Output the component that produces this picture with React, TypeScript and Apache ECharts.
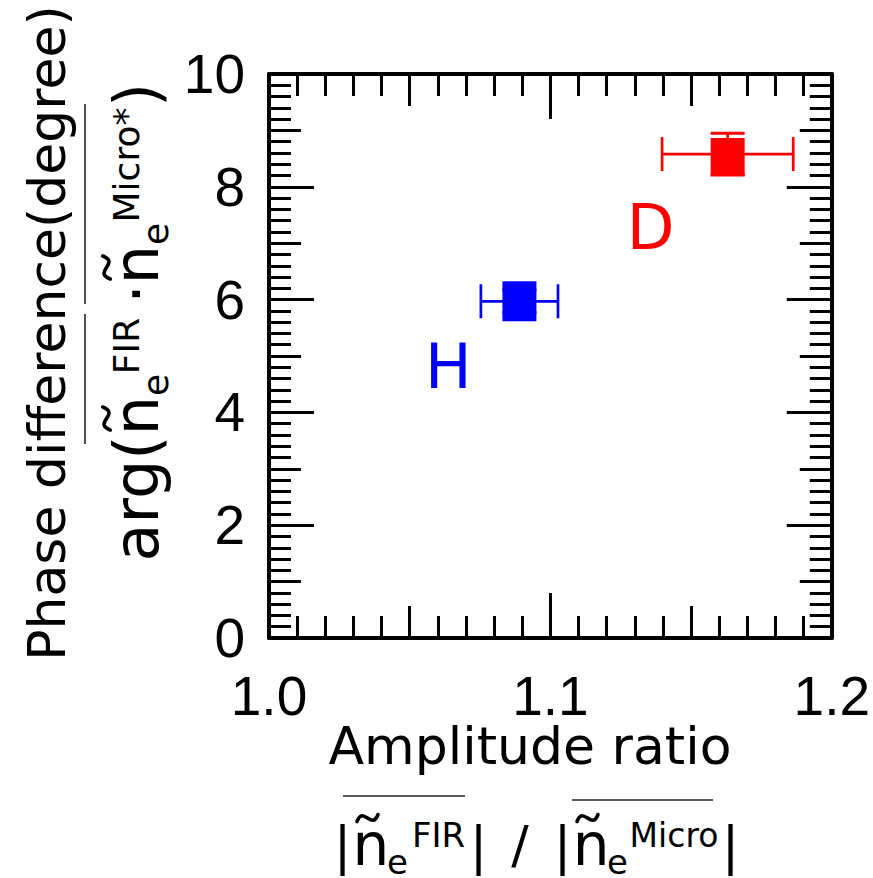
import React, { useEffect, useRef } from "react";
import * as echarts from "echarts";

// Two isotope runs: amplitude ratio vs. phase difference, with error bars
const isotopes = ["H", "D"];
const amplitudeRatio = [1.089, 1.163];
const amplitudeErr = [0.0137, 0.0233];
const phaseDeg = [5.97, 8.58];
const phaseErr = [0.2, 0.37];

// where the isotope tags sit, in data units
const tagX = [1.0637, 1.1356];
const tagY = [4.82, 7.27];

const xTickLabels = ["1.0", "1.1", "1.2"];
const yTickLabels = ["0", "2", "4", "6", "8", "10"];

// marker styling per isotope
const MARKER_COLORS = ["#0000ff", "#ff0000"];
const MARKER_SIZES = [
  [34, 40],
  [34, 38],
];
const MARKER_SHIFT = [
  [0, 0],
  [0, 3],
];

const TICK_FONT = "'Liberation Sans', Arial, sans-serif";
const TITLE_FONT = "'DejaVu Sans', Verdana, sans-serif";

// place a centred text so that its alphabetic baseline lands on `base`
const txt = (text: string, x: number, base: number, size: number, fill = "#000") => ({
  type: "text",
  x,
  y: base - 0.346 * size,
  style: {
    text,
    fontFamily: TITLE_FONT,
    fontSize: size,
    fill,
    align: "center",
    verticalAlign: "middle",
    textAlign: "center",
    textVerticalAlign: "middle",
  },
});

const tilde = (x0: number, yTop: number, w: number, h: number) => ({
  type: "bezierCurve",
  shape: {
    x1: x0,
    y1: yTop + h * 0.75,
    cpx1: x0 + w * 0.3,
    cpy1: yTop - h * 0.45,
    cpx2: x0 + w * 0.7,
    cpy2: yTop + h * 1.45,
    x2: x0 + w,
    y2: yTop + h * 0.25,
  },
  style: { stroke: "#000", lineWidth: 3.6, fill: null, lineCap: "round" },
});

const bar = (x1: number, y1: number, x2: number, y2: number) => ({
  type: "line",
  shape: { x1, y1, x2, y2 },
  style: { stroke: "#222", lineWidth: 1.6 },
});

// x-axis title, second line: |ñ_e^FIR| / |ñ_e^Micro|
const X2 = -2; // small lift of the whole line
const xFormula = [
  txt("|", 342.5, 864.5 + X2, 52),
  txt("n", 370.8, 867 + X2, 58),
  tilde(357, 813 + X2, 21, 14),
  txt("e", 397.5, 876 + X2, 34),
  txt("FIR", 438.5, 849 + X2, 34),
  txt("|", 478.5, 864.5 + X2, 52),
  txt("/", 520, 864.5 + X2, 52),
  txt("|", 562.5, 864.5 + X2, 52),
  txt("n", 591, 867 + X2, 58),
  tilde(577, 813 + X2, 21, 14),
  txt("e", 617.5, 876 + X2, 34),
  txt("Micro", 674, 849 + X2, 33),
  txt("|", 730.5, 864.5 + X2, 52),
  bar(343, 798 + X2, 465, 798 + X2),
  bar(572, 802 + X2, 713, 802 + X2),
];

// y-axis title, second column, laid out along the reading direction
const yFormula = [
  txt("arg(", 63.5, 0, 62),
  txt("n", 146.5, 0, 62),
  tilde(132, -59, 23, 15),
  txt("e", 177, 10, 36),
  txt("FIR", 216, -19, 36),
  txt("·", 268, 0, 62),
  txt("n", 297.5, 0, 62),
  tilde(283, -59, 23, 15),
  txt("e", 328, 10, 36),
  txt("Micro*", 397, -19, 36),
  txt(")", 467, 0, 62),
  bar(118, -73, 248, -73),
  bar(258, -73, 458, -73),
];

const tickStyle = { color: "#000", width: 3 };

function valueAxis(
  min: number,
  max: number,
  interval: number,
  position: string,
  opts: { line?: boolean; major?: boolean; labels?: any }
) {
  return {
    type: "value",
    min,
    max,
    interval,
    position,
    axisLine: { show: !!opts.line, onZero: false, lineStyle: { color: "#000", width: 4 } },
    axisTick: { show: true, inside: true, length: opts.major ? 45 : 32, lineStyle: tickStyle },
    minorTick: { show: !!opts.major, splitNumber: 10, length: 22, lineStyle: tickStyle },
    splitLine: { show: false },
    minorSplitLine: { show: false },
    axisLabel: opts.labels ? opts.labels : { show: false },
  };
}

export default function App() {
  const ref = useRef<HTMLDivElement>(null);

  useEffect(() => {
    if (!ref.current) return;
    const chart = echarts.init(ref.current, null, { renderer: "svg" });

    const xLabels = {
      show: true,
      margin: 30,
      fontFamily: TICK_FONT,
      fontSize: 55,
      color: "#000",
      showMinLabel: true,
      showMaxLabel: true,
      formatter: (v: number) => xTickLabels[Math.round((v - 1.0) / 0.1)] ?? "",
    };
    const yLabels = {
      show: true,
      margin: 24,
      fontFamily: TICK_FONT,
      fontSize: 55,
      color: "#000",
      showMinLabel: true,
      showMaxLabel: true,
      formatter: (v: number) => yTickLabels[Math.round(v / 2)] ?? "",
    };

    const errData = isotopes.map((_, i) => [amplitudeRatio[i], phaseDeg[i], amplitudeErr[i], phaseErr[i], i]);
    const tagData = isotopes.map((_, i) => [tagX[i], tagY[i], i]);

    chart.setOption({
      animation: false,
      backgroundColor: "#fff",
      grid: { left: 269, top: 74, width: 565, height: 564, containLabel: false },
      xAxis: [
        valueAxis(1.0, 1.2, 0.1, "bottom", { line: true, major: true, labels: xLabels }),
        valueAxis(1.0, 1.2, 0.05, "bottom", {}),
        valueAxis(1.0, 1.2, 0.1, "top", { line: true, major: true }),
        valueAxis(1.0, 1.2, 0.05, "top", {}),
      ],
      yAxis: [
        valueAxis(0, 10, 2, "left", { line: true, major: true, labels: yLabels }),
        valueAxis(0, 10, 1, "left", {}),
        valueAxis(0, 10, 2, "right", { line: true, major: true }),
        valueAxis(0, 10, 1, "right", {}),
      ],
      series: [
        {
          type: "custom",
          name: "error",
          xAxisIndex: 0,
          yAxisIndex: 0,
          z: 2,
          data: errData,
          renderItem: (_p: any, api: any) => {
            const x = api.value(0);
            const y = api.value(1);
            const ex = api.value(2);
            const ey = api.value(3);
            const color = MARKER_COLORS[api.value(4)];
            const L = api.coord([x - ex, y]);
            const R = api.coord([x + ex, y]);
            const T = api.coord([x, y + ey]);
            const B = api.coord([x, y - ey]);
            const cap = 17;
            const seg = (x1: number, y1: number, x2: number, y2: number, w: number) => ({
              type: "line",
              shape: { x1, y1, x2, y2 },
              style: { stroke: color, lineWidth: w },
            });
            return {
              type: "group",
              children: [
                seg(L[0], L[1], R[0], R[1], 2.7),
                seg(L[0], L[1] - cap, L[0], L[1] + cap, 2.7),
                seg(R[0], R[1] - cap, R[0], R[1] + cap, 2.7),
                seg(T[0], T[1], B[0], B[1], 2.7),
                seg(T[0] - cap, T[1], T[0] + cap, T[1], 3),
                seg(B[0] - cap, B[1], B[0] + cap, B[1], 3),
              ],
            };
          },
        },
        {
          type: "scatter",
          name: "points",
          xAxisIndex: 0,
          yAxisIndex: 0,
          z: 3,
          symbol: "rect",
          data: isotopes.map((n, i) => ({
            name: n,
            value: [amplitudeRatio[i], phaseDeg[i]],
            symbolSize: MARKER_SIZES[i],
            symbolOffset: MARKER_SHIFT[i],
            itemStyle: { color: MARKER_COLORS[i], opacity: 1 },
          })),
        },
        {
          type: "custom",
          name: "tags",
          xAxisIndex: 0,
          yAxisIndex: 0,
          z: 4,
          data: tagData,
          renderItem: (_p: any, api: any) => {
            const c = api.coord([api.value(0), api.value(1)]);
            const i = api.value(2);
            return {
              type: "text",
              x: c[0],
              y: c[1],
              style: {
                text: isotopes[i],
                fontFamily: TITLE_FONT,
                fontSize: 62,
                fill: MARKER_COLORS[i],
                align: "center",
                verticalAlign: "middle",
                textAlign: "center",
                textVerticalAlign: "middle",
              },
            };
          },
        },
      ],
      graphic: [
        txt("Amplitude ratio", 530, 764, 52),
        ...xFormula,
        {
          type: "text",
          x: 47,
          y: 333,
          rotation: Math.PI / 2,
          style: {
            text: "Phase difference(degree)",
            fontFamily: TITLE_FONT,
            fontSize: 52,
            fill: "#000",
            align: "center",
            verticalAlign: "middle",
            textAlign: "center",
            textVerticalAlign: "middle",
          },
        },
        { type: "group", x: 158, y: 562, rotation: Math.PI / 2, children: yFormula },
      ],
    });

    return () => chart.dispose();
  }, []);

  return (
    <div
      ref={ref}
      style={{ position: "fixed", left: 0, top: 0, width: 873, height: 878, background: "#fff" }}
    />
  );
}
